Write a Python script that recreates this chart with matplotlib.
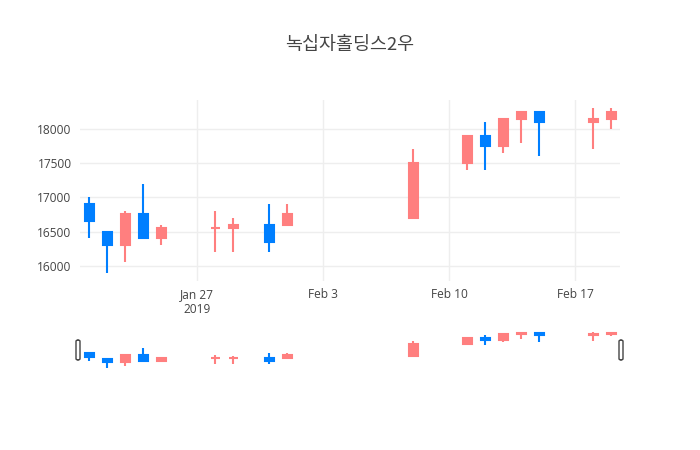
import matplotlib.pyplot as plt
import matplotlib.dates as mdates
from matplotlib.patches import FancyBboxPatch
import datetime as dt

# OHLC data
dates = ['2019-01-21', '2019-01-22', '2019-01-23', '2019-01-24', '2019-01-25',
         '2019-01-28', '2019-01-29', '2019-01-31', '2019-02-01', '2019-02-08',
         '2019-02-11', '2019-02-12', '2019-02-13', '2019-02-14', '2019-02-15',
         '2019-02-18', '2019-02-19']
opens = [16900, 16500, 16300, 16750, 16400, 16550, 16550, 16600, 16600, 16700,
         17500, 17900, 17750, 18150, 18250, 18100, 18150]
highs = [17000, 16500, 16800, 17200, 16600, 16800, 16700, 16900, 16900, 17700,
         17900, 18100, 18150, 18250, 18250, 18300, 18300]
lows = [16400, 15900, 16050, 16400, 16300, 16200, 16200, 16200, 16600, 16700,
        17400, 17400, 17650, 17800, 17600, 17700, 18000]
closes = [16650, 16300, 16750, 16400, 16550, 16560, 16600, 16350, 16750, 17500,
          17900, 17750, 18150, 18250, 18100, 18150, 18250]

title = '녹십자홀딩스2우'
yticks = [16000, 16500, 17000, 17500, 18000]
xtick_dates = ['2019-01-27', '2019-02-03', '2019-02-10', '2019-02-17']
xtick_labels = ['Jan 27\n2019', 'Feb 3', 'Feb 10', 'Feb 17']

UP = '#FF7F7F'
DOWN = '#007FFF'
TXT = '#444444'

x = [mdates.date2num(dt.datetime.strptime(d, '%Y-%m-%d')) for d in dates]
colors = [UP if c >= o else DOWN for o, c in zip(opens, closes)]
xmin, xmax = x[0] - 0.5, x[-1] + 0.5
ymin, ymax = 15780, 18420


def draw_candles(ax):
    ax.vlines(x, lows, highs, colors=colors, linewidth=1.5, zorder=2)
    bottoms = [min(o, c) for o, c in zip(opens, closes)]
    heights = [abs(c - o) for o, c in zip(opens, closes)]
    ax.bar(x, heights, bottom=bottoms, width=0.5, color=colors,
           edgecolor=colors, linewidth=1.5, zorder=3)
    ax.set_xlim(xmin, xmax)
    ax.set_ylim(ymin, ymax)
    for s in ax.spines.values():
        s.set_visible(False)


fig = plt.figure(figsize=(7, 4.5), dpi=100)
plt.rcParams['font.family'] = ['Open Sans', 'DejaVu Sans']

ax = fig.add_axes([80 / 700, 169 / 450, 540 / 700, 181 / 450])
draw_candles(ax)
ax.set_yticks(yticks)
ax.set_yticklabels([str(v) for v in yticks])
ax.set_xticks([mdates.date2num(dt.datetime.strptime(d, '%Y-%m-%d')) for d in xtick_dates])
ax.set_xticklabels(xtick_labels)
ax.grid(True, color='#eeeeee', linewidth=1, zorder=0)
ax.set_axisbelow(True)
ax.tick_params(length=0, labelsize=8.6, colors=TXT)
ax.tick_params(axis='y', pad=6)
ax.tick_params(axis='x', pad=5)

fig.text(0.5, 1 - 45 / 450, title, ha='center', va='center', fontsize=13.3,
         color=TXT, family=['Noto Sans CJK KR', 'DejaVu Sans'])

# range slider
sl = fig.add_axes([80 / 700, 80 / 450, 540 / 700, 40 / 450])
draw_candles(sl)
sl.set_xticks([])
sl.set_yticks([])
for hx in (78, 621):
    fig.patches.append(FancyBboxPatch(
        ((hx - 2) / 700, 90 / 450), 4 / 700, 20 / 450,
        boxstyle='round,pad=0,rounding_size=0.003', transform=fig.transFigure,
        facecolor='white', edgecolor='#444444', linewidth=1, zorder=5))

fig.savefig('out.png', dpi=100)
